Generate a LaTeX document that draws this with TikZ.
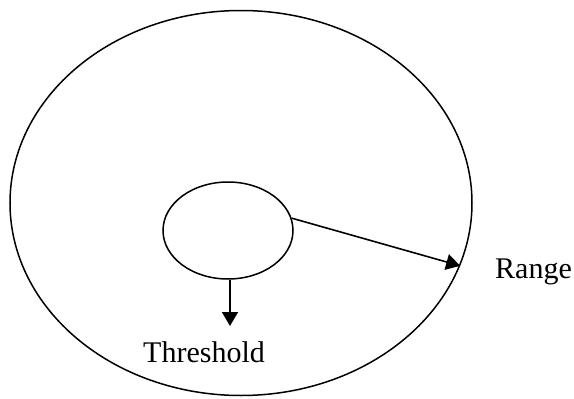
\documentclass[tikz,border=0pt]{standalone}
\usepackage{fontspec}
\setmainfont{Liberation Serif}
\usetikzlibrary{shapes.geometric,arrows.meta}
\tikzset{
  ring/.style={draw, ellipse, line width=1.5pt, inner sep=0pt},
  pointer/.style={line width=1.6pt, -{Triangle[length=14pt,width=16pt]}},
  lbl/.style={font=\fontsize{30}{36}\selectfont, inner sep=0pt, anchor=base west}
}
\begin{document}
\begin{tikzpicture}[x=1pt,y=-1pt]
\useasboundingbox (0,0) rectangle (574,399);
\node[ring, minimum width=462pt, minimum height=385pt] (big) at (241,203) {};
\node[ring, minimum width=130pt, minimum height=97pt] (small) at (228,230.5) {};
\coordinate (t) at (230,326);
\draw[pointer] (small.11) -- (big.-16);
\draw[pointer] (small.south -| t) -- (t);
\node[lbl] (range) at (495,278) {Range};
\node[lbl] (thr) at (143,362) {Threshold};
\end{tikzpicture}
\end{document}
